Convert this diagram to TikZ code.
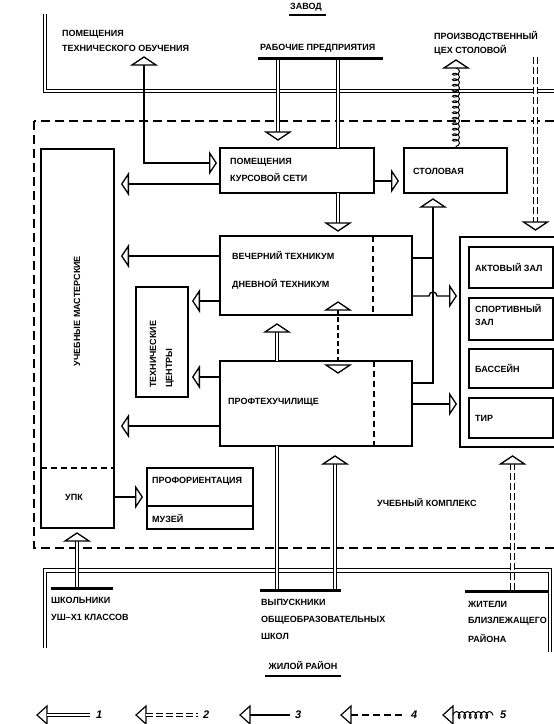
\documentclass[tikz,border=0pt]{standalone}
\usepackage{fontspec}
\setmainfont{Liberation Sans}
\usetikzlibrary{arrows.meta,decorations.pathmorphing,fit,calc}
\begin{document}
\begin{tikzpicture}[x=1pt,y=-1pt,
  box/.style={draw, line width=2.1pt, inner sep=0pt, outer sep=0pt},
  conn/.style={line width=1.3pt},
  tipa/.style={-{Triangle[open, length=8pt, width=24pt, line width=1.3pt]}},
  dbl/.style={line width=1pt, double distance=2.6pt},
  ddbl/.style={dbl, dash pattern=on 7pt off 3pt},
  dsh/.style={line width=1.4pt, dash pattern=on 6pt off 4pt},
  txt/.style={font=\bfseries\fontsize{9}{10}\selectfont, inner sep=0pt, anchor=west},
  num/.style={font=\bfseries\itshape\fontsize{11}{12}\selectfont, inner sep=0pt, anchor=west},
  barst/.style={fill, inner sep=0pt, outer sep=0pt},
  coilst/.style={decorate, decoration={coil, amplitude=3.5pt, segment length=5.5pt, aspect=0.6}, line width=1pt},
  ah/.pic={\draw[line width=1.3pt, fill=white] (0,0) -- (-8,12) -- (-8,-12) -- cycle;},
  ahs/.pic={\draw[line width=1.2pt, fill=white] (0,0) -- (-10,9) -- (-10,-9) -- cycle;},
]
\useasboundingbox (0,0) rectangle (554,724);
\clip (0,0) rectangle (554,724);
\fill[white] (0,0) rectangle (554,724);

% ---------- factory frame ----------
\node[txt, anchor=center] (zavod) at (306,7) {ЗАВОД};
\draw[line width=1.6pt] (zavod.south west) ++(-1,4) -- ++(37,0);
\draw[dbl] (45,14) -- (45,91) -- (560,91);

\node[txt] (tob1) at (62,34) {ПОМЕЩЕНИЯ};
\node[txt] (tob2) at (62,48) {ТЕХНИЧЕСКОГО ОБУЧЕНИЯ};
\node[txt] (rab) at (260,48) {РАБОЧИЕ ПРЕДПРИЯТИЯ};
\node[barst, fit={(258,57)(383,59.5)}] (RB) {};
\node[txt] (ceh1) at (434,36) {ПРОИЗВОДСТВЕННЫЙ};
\node[txt] (ceh2) at (434,50) {ЦЕХ СТОЛОВОЙ};

% ---------- complex frame ----------
\draw[line width=1.5pt, dash pattern=on 9pt off 5pt] (34,121) rectangle (560,548);
\node[txt] (uk) at (377,502) {УЧЕБНЫЙ КОМПЛЕКС};

% ---------- boxes ----------
\node[box, fit={(220,148)(374,193)}] (A) {};
\node[txt] at (230,162) {ПОМЕЩЕНИЯ};
\node[txt] at (230,177) {КУРСОВОЙ СЕТИ};

\node[box, fit={(404,148)(507,193)}] (C) {};
\node[txt] at (413,171) {СТОЛОВАЯ};

\node[box, fit={(220,236)(412,315)}] (V) {};
\draw[dsh] (V.north -| 373,0) -- (V.south -| 373,0);
\node[txt] at (232,255) {ВЕЧЕРНИЙ ТЕХНИКУМ};
\node[txt] at (232,284) {ДНЕВНОЙ ТЕХНИКУМ};

\node[box, fit={(220,361)(412,446)}] (P) {};
\draw[dsh] (P.north -| 374,0) -- (P.south -| 374,0);
\node[txt] at (228,402) {ПРОФТЕХУЧИЛИЩЕ};

\node[box, fit={(136,287)(188,397)}] (T) {};
\node[txt, rotate=90] at (153,388) {ТЕХНИЧЕСКИЕ};
\node[txt, rotate=90] at (170,388) {ЦЕНТРЫ};

\node[box, fit={(41,149)(114,528)}] (M) {};
\draw[dsh] (M.west |- 0,468) -- (M.east |- 0,468);
\node[txt, anchor=center, rotate=90] at (77,311) {УЧЕБНЫЕ МАСТЕРСКИЕ};
\node[txt, anchor=center] at (74,497) {УПК};

\node[box, fit={(147,468)(253,506)}] (PO) {};
\node[box, fit={(147,506)(253,529)}] (MU) {};
\node[txt] at (152,481) {ПРОФОРИЕНТАЦИЯ};
\node[txt] at (152,518) {МУЗЕЙ};

\node[box, fit={(460,237)(566,447)}] (Z) {};
\node[box, fit={(469,247)(553,288)}] (Z1) {};
\node[box, fit={(469,298)(553,340)}] (Z2) {};
\node[box, fit={(469,349)(553,388)}] (Z3) {};
\node[box, fit={(469,398)(553,438)}] (Z4) {};
\node[txt] at (475,267) {АКТОВЫЙ ЗАЛ};
\node[txt] at (475,308) {СПОРТИВНЫЙ};
\node[txt] at (475,322) {ЗАЛ};
\node[txt] at (475,368) {БАССЕЙН};
\node[txt] at (475,418) {ТИР};

% ---------- connectors, top ----------
\coordinate (tobA) at (144,57);
\coordinate (tobB) at (144,65);
\pic[rotate=90] at (tobA) {ah};
\draw[conn, tipa, shorten >=3pt] (tobB) |- (A.west |- 0,163);

\coordinate (r1A) at (278,140);
\coordinate (r1B) at (278,132);
\draw[dbl] (RB.south -| r1B) -- (r1B);
\pic[rotate=-90] at (r1A) {ah};
\draw[dbl] (RB.south -| 338,0) -- (A.north -| 338,0);

\coordinate (cwA) at (456,60);
\coordinate (cwB) at (456,68);
\draw[coilst] (cwB) -- (C.north -| cwB);
\pic[rotate=90] at (cwA) {ah};

\coordinate (dsT) at (535.5,57);
\coordinate (dsB) at (535.5,222);
\coordinate (dsA) at (535.5,230);
\draw[ddbl] (dsT) -- (dsB);
\pic[rotate=-90] at (dsA) {ah};

\draw[conn, tipa, shorten >=5pt] (A.east |- 0,181) -- (C.west |- 0,181);
\draw[conn, tipa, shorten >=7pt] (A.west |- 0,184) -- (M.east |- 0,184);

\coordinate (avB) at (338,223);
\coordinate (avA) at (338,231);
\draw[dbl] (A.south -| avB) -- (avB);
\pic[rotate=-90] at (avA) {ah};

% ---------- connectors, middle ----------
\draw[conn, tipa, shorten >=7pt] (V.west |- 0,256) -- (M.east |- 0,256);
\draw[conn, tipa, shorten >=4pt] (V.west |- 0,301) -- (T.east |- 0,301);
\draw[conn, tipa, shorten >=4pt] (P.west |- 0,377) -- (T.east |- 0,377);
\draw[conn, tipa, shorten >=7pt] (P.west |- 0,426) -- (M.east |- 0,426);

\coordinate (pvB) at (277,332);
\coordinate (pvA) at (277,324);
\draw[dbl] (P.north -| pvB) -- (pvB);
\pic[rotate=90] at (pvA) {ah};

\coordinate (dvA) at (338,302);
\coordinate (dvB) at (338,309);
\coordinate (dpB) at (338,366);
\coordinate (dpA) at (338,373);
\draw[conn, dash pattern=on 5pt off 3pt] (dvB) -- (dpB);
\pic[rotate=90] at (dvA) {ah};
\pic[rotate=-90] at (dpA) {ah};

\coordinate (busA) at (433,199);
\coordinate (busB) at (433,207);
\draw[conn] (busB) |- (P.east |- 0,383);
\pic[rotate=90] at (busA) {ah};
\draw[conn] (V.east |- 0,258) -- (busB |- 0,258);
\draw[conn, tipa] (V.east |- 0,296) -- (429,296) arc[start angle=180, end angle=360, radius=4] -- ($(Z.west |- 0,296)+(-3,0)$);
\draw[conn, tipa, shorten >=3pt] (P.east |- 0,404) -- (Z.west |- 0,404);

\draw[conn, tipa, shorten >=4pt] (M.east |- 0,497) -- (PO.west |- 0,497);

% ---------- residential ----------
\draw[dbl] (45,648) -- (45,570.5) -- (550,570.5) -- (550,652);

\node[barst, fit={(51,587)(113,589.5)}] (SB) {};
\node[txt] at (51,600) {ШКОЛЬНИКИ};
\node[txt] at (51,617) {УШ–Х1 КЛАССОВ};
\coordinate (sbB) at (77,540);
\coordinate (sbA) at (77,533);
\draw[dbl] (SB.north -| sbB) -- (sbB);
\pic[rotate=90] at (sbA) {ah};

\node[barst, fit={(260,589)(341,591.5)}] (VB) {};
\node[txt] at (261,602) {ВЫПУСКНИКИ};
\node[txt] at (261,620) {ОБЩЕОБРАЗОВАТЕЛЬНЫХ};
\node[txt] at (261,636) {ШКОЛ};
\draw[dbl] (VB.north -| 277,0) -- (P.south -| 277,0);
\coordinate (vbB) at (335,463);
\coordinate (vbA) at (335,456);
\draw[dbl] (VB.north -| vbB) -- (vbB);
\pic[rotate=90] at (vbA) {ah};

\node[barst, fit={(465,590)(548,592.5)}] (JB) {};
\node[txt] at (468,604) {ЖИТЕЛИ};
\node[txt] at (468,621) {БЛИЗЛЕЖАЩЕГО};
\node[txt] at (468,638) {РАЙОНА};
\coordinate (jbB) at (512.5,463);
\coordinate (jbA) at (512.5,456);
\draw[ddbl] (JB.north -| jbB) -- (jbB);
\pic[rotate=90] at (jbA) {ah};

\node[txt, anchor=center] (jr) at (303,665) {ЖИЛОЙ РАЙОН};
\draw[line width=2pt] (265,676) -- (341,676);

% ---------- legend ----------
\coordinate (l1A) at (37,715);
\coordinate (l1B) at (47,715);
\coordinate (l1E) at (90,715);
\pic[rotate=180] at (l1A) {ahs};
\draw[dbl] (l1B) -- (l1E);
\node[num] (n1) at (96,715) {1};

\coordinate (l2A) at (136,715);
\coordinate (l2B) at (146,715);
\coordinate (l2E) at (198,715);
\pic[rotate=180] at (l2A) {ahs};
\draw[ddbl] (l2B) -- (l2E);
\node[num] (n2) at (203,715) {2};

\coordinate (l3A) at (240,715);
\coordinate (l3B) at (250,715);
\coordinate (l3E) at (290,715);
\pic[rotate=180] at (l3A) {ahs};
\draw[conn] (l3B) -- (l3E);
\node[num] (n3) at (295,715) {3};

\coordinate (l4A) at (341,715);
\coordinate (l4B) at (351,715);
\coordinate (l4E) at (406,715);
\pic[rotate=180] at (l4A) {ahs};
\draw[conn, dash pattern=on 7pt off 4pt] (l4B) -- (l4E);
\node[num] (n4) at (411,715) {4};

\coordinate (l5A) at (443,715);
\coordinate (l5B) at (453,715);
\coordinate (l5E) at (493,715);
\pic[rotate=180] at (l5A) {ahs};
\draw[coilst] (l5B) -- (l5E);
\node[num] (n5) at (500,715) {5};
\end{tikzpicture}
\end{document}
